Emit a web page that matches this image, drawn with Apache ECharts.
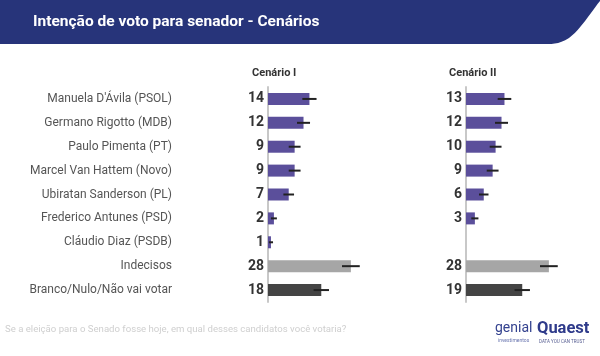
<!DOCTYPE html>
<html>
<head>
<meta charset="utf-8">
<script src="https://cdn.jsdelivr.net/npm/echarts@6/dist/echarts.min.js"></script>
<style>
html,body{margin:0;padding:0;background:#fff;}
#chart{width:600px;height:356px;}
</style>
</head>
<body>
<div id="chart"></div>
<script>
const categories = [
  "Manuela D'Ávila (PSOL)",
  "Germano Rigotto (MDB)",
  "Paulo Pimenta (PT)",
  "Marcel Van Hattem (Novo)",
  "Ubiratan Sanderson (PL)",
  "Frederico Antunes (PSD)",
  "Cláudio Diaz (PSDB)",
  "Indecisos",
  "Branco/Nulo/Não vai votar"
];
const cenario1 = [14, 12, 9, 9, 7, 2, 1, 28, 18];
const cenario2 = [13, 12, 10, 9, 6, 3, null, 28, 19];
const erro1 = [2.4, 2.2, 2.0, 2.0, 1.8, 1.0, 0.7, 3.0, 2.6];
const erro2 = [2.3, 2.2, 2.0, 2.0, 1.6, 1.2, null, 3.0, 2.6];
const panelTitles = ["Cenário I", "Cenário II"];
const chartTitle = "Intenção de voto para senador - Cenários";
const footnote = "Se a eleição para o Senado fosse hoje, em qual desses candidatos você votaria?";

const FONT = 'Roboto, "Noto Sans", sans-serif';
function colorFor(i) {
  if (categories[i] === 'Indecisos') return '#a6a6a6';
  if (categories[i].indexOf('Branco') === 0) return '#444444';
  return '#5b4f9b';
}
function barData(vals) {
  return vals.map((v, i) => v == null ? '-' : { value: v, itemStyle: { color: colorFor(i) } });
}
function errData(vals, errs) {
  const out = [];
  vals.forEach((v, i) => { if (v != null && errs[i] != null) out.push([v, i, errs[i]]); });
  return out;
}
function renderErr(params, api) {
  const v = api.value(0), idx = api.value(1), e = api.value(2);
  const p1 = api.coord([v - e, idx]);
  const p2 = api.coord([v + e, idx]);
  return {
    type: 'line',
    shape: { x1: p1[0], y1: p1[1], x2: p2[0], y2: p2[1] },
    style: { stroke: '#222', lineWidth: 2 }
  };
}

// header band shape (decoration): flat bottom then a curve rising to the top right corner
function bezier(p0, p1, p2, p3, n) {
  const pts = [];
  for (let i = 0; i <= n; i++) {
    const t = i / n, u = 1 - t;
    pts.push([
      u*u*u*p0[0] + 3*u*u*t*p1[0] + 3*u*t*t*p2[0] + t*t*t*p3[0],
      u*u*u*p0[1] + 3*u*u*t*p1[1] + 3*u*t*t*p2[1] + t*t*t*p3[1]
    ]);
  }
  return pts;
}
const bandPts = [[0, 0], [600, 0]]
  .concat(bezier([600, 1], [591, 12], [581, 29], [569, 38], 12))
  .concat(bezier([569, 38], [561, 43], [555, 44], [548, 44], 6))
  .concat([[0, 44]]);

const PX_PER_UNIT = 2.96;
const XMAX = 35;
const gridTop = 87, gridH = 215;
const gridLefts = [268, 466];

const chart = echarts.init(document.getElementById('chart'), null, { renderer: 'canvas' });

const grids = gridLefts.map(l => ({ left: l, top: gridTop, width: XMAX * PX_PER_UNIT, height: gridH, containLabel: false }));
const xAxes = gridLefts.map((l, k) => ({ type: 'value', gridIndex: k, min: 0, max: XMAX, show: false }));
const yAxes = gridLefts.map((l, k) => ({
  type: 'category', gridIndex: k, data: categories, inverse: true,
  axisTick: { show: false },
  axisLine: { show: true, lineStyle: { color: '#c8c8c8', width: 2 } },
  splitLine: { show: false },
  axisLabel: k === 0 ? { show: true, margin: 96, fontSize: 12, color: '#555', fontFamily: FONT } : { show: false }
}));

const valueLabel = {
  show: true, position: 'left', distance: 4,
  fontSize: 14, fontWeight: 'bold', color: '#333', fontFamily: FONT
};

const series = [];
[cenario1, cenario2].forEach((vals, k) => {
  series.push({
    type: 'bar', xAxisIndex: k, yAxisIndex: k, barWidth: 12,
    data: barData(vals), label: valueLabel, silent: true
  });
  series.push({
    type: 'custom', xAxisIndex: k, yAxisIndex: k, clip: false, z: 5,
    renderItem: renderErr, encode: { x: 0, y: 1 },
    data: errData(vals, k === 0 ? erro1 : erro2), silent: true
  });
});

const graphic = [
  { type: 'polygon', shape: { points: bandPts }, style: { fill: '#27347a' }, z: 0 },
  { type: 'text', left: 33, top: 14, style: { text: chartTitle, fill: '#fff', fontSize: 15.5, fontWeight: 'bold', fontFamily: FONT } },
  { type: 'text', left: 252, top: 68, style: { text: panelTitles[0], fill: '#333', fontSize: 11, fontWeight: 'bold', fontFamily: FONT } },
  { type: 'text', left: 449, top: 68, style: { text: panelTitles[1], fill: '#333', fontSize: 11, fontWeight: 'bold', fontFamily: FONT } },
  { type: 'text', left: 5, top: 325, style: { text: footnote, fill: '#cfcfcf', fontSize: 9.6, fontFamily: FONT } },
  { type: 'text', left: 495, top: 321, style: { text: 'genial', fill: '#34428f', fontSize: 14, fontFamily: FONT } },
  { type: 'text', left: 498, top: 338, style: { text: 'investimentos', fill: '#6a76b0', fontSize: 5, fontFamily: FONT } },
  { type: 'text', left: 537, top: 320, style: { text: 'Quaest', fill: '#2e3a8a', fontSize: 16.5, fontWeight: 'bold', fontFamily: FONT } },
  { type: 'text', left: 539, top: 339, style: { text: 'DATA YOU CAN TRUST', fill: '#555c90', fontSize: 4.5, fontFamily: FONT } }
];

chart.setOption({
  animation: false,
  backgroundColor: '#ffffff',
  grid: grids,
  xAxis: xAxes,
  yAxis: yAxes,
  series: series,
  graphic: graphic
});
</script>
</body>
</html>
